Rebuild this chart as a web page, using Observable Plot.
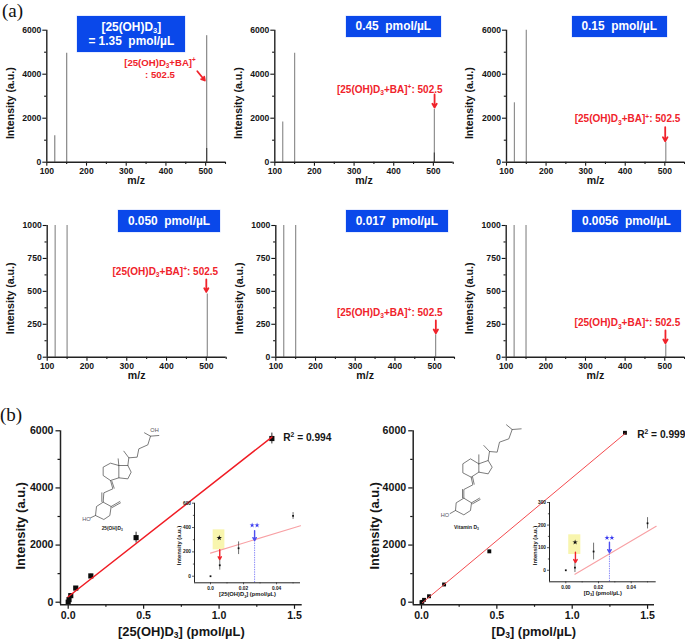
<!DOCTYPE html>
<html><head><meta charset="utf-8">
<script src="https://cdn.jsdelivr.net/npm/d3@7"></script>
<script src="https://cdn.jsdelivr.net/npm/@observablehq/plot@0.6"></script>
<style>
html,body{margin:0;padding:0;background:#fff}
#c{position:relative;width:685px;height:639px;overflow:hidden;background:#fff;font-family:"Liberation Sans",Arial,sans-serif}
#c svg{position:absolute;overflow:visible;background:none;max-width:none}
.box{position:absolute;background:#0a48ea;color:#fff;font-weight:bold;font-size:11.9px;line-height:14px;text-align:center;white-space:pre;display:flex;flex-direction:column;justify-content:center;box-shadow:0 0 0 .5px #cfdcff}
.box sub{font-size:7.5px;line-height:0;vertical-align:-2px}
.tag{position:absolute;font-family:"Liberation Serif",serif;font-size:19px;line-height:22px;color:#111}
</style></head><body><div id="c"></div>
<script>
// ---------- data ----------
const mz = [120, 150, 502.5];
const int135 = [1200, 4950, 5750];
const int045 = [1830, 4950, 2400];
const int015 = [2700, 6000, 900];
const int0050 = [1000, 1000, 480];
const int0017 = [1000, 1000, 170];
const int00056 = [1000, 1000, 95];
const low135 = 620, low045 = 420;
const concentrations = ["[25(OH)D_3]\n= 1.35  pmol/µL", "0.45  pmol/µL", "0.15  pmol/µL", "0.050  pmol/µL", "0.017  pmol/µL", "0.0056  pmol/µL"];
const ionLabel = "[25(OH)D_3+BA]^+: 502.5";

const conc = [0, 0.0056, 0.017, 0.05, 0.15, 0.45, 1.35];
const ohInt = [0, 90, 230, 495, 920, 2260, 5730];
const ohErr = [5, 40, 52, 28, 60, 190, 190];
const d3Int = [0, 12, 83, 208, 620, 1780, 5930];
const d3Err = [3, 22, 37, 25, 30, 40, 40];
const ohFit = [[0, 190], [1.35, 5780]];
const d3Fit = [[0.0056, -20], [1.35, 5900]];
const ohInsetFit = [[0, 190], [0.0545, 415]];
const d3InsetFit = [[0.0056, -18], [0.0553, 195]];
const ohLabel = "[25(OH)D_3] (pmol/µL)";
const d3Label = "[D_3] (pmol/µL)";

// ---------- skeletal formulas, drawn in their own sketch units ----------
const bondsOH = [
 [[432,112],[450,122],[475,120]],[[450,122],[442,148],[415,160],[410,185],[385,187],[370,167]],[[385,187],[382,210],[392,230],[382,250],[355,247],[355,210],[330,203],[308,215],[308,240],[330,255],[355,247]],
 [[355,210],[353,190]],[[382,210],[355,210]],[[330,255],[337,280],[310,292],[308,320],[332,333],[328,360],[310,372],[285,360],[288,333],[308,320]],
 [[334,257],[341,278]],[[304,292],[304,318]],[[332,333],[358,318]],[[335,336],[360,322]],[[285,360],[270,367]]
];
const bondsD3 = [
 [[483,88],[500,102],[527,100]],[[500,102],[490,130],[462,140],[455,170],[432,168],[415,150]],[[432,168],[428,195],[440,215],[428,235],[400,230],[400,205],[375,190],[352,205],[352,232],[377,245],[400,230]],
 [[400,205],[400,178]],[[428,195],[400,205]],[[377,245],[382,268],[355,282],[355,308],[378,322],[375,345],[355,358],[330,345],[332,322],[355,308]],
 [[381,244],[386,266]],[[351,282],[351,307]],[[378,322],[402,308]],[[381,325],[404,312]],[[330,345],[314,354]]
];

// ---------- helpers ----------
const root = document.getElementById("c");
const FONT = '"Liberation Sans", Arial, sans-serif';
const RED = "#f0232b", BLUE = "#3b3cf0";

function mount(plot, left, top) {
  plot.style.left = left + "px"; plot.style.top = top + "px";
  root.appendChild(plot); return plot;
}
function base(o) {
  return {margin: 0, style: {fontFamily: FONT, fontWeight: "bold", background: "none", overflow: "visible", color: "#151515"}, ...o};
}
function axes({xMajor, xMinor, yMajor, yMinor, xFmt, yFmt, size, tick, w, xAt, yAt, pad}) {
  const opt = {label: null, strokeWidth: w, fontSize: size, tickPadding: pad};
  return [
    Plot.axisX({...opt, ticks: xMajor, tickSize: tick, tickFormat: xFmt}),
    Plot.axisX({...opt, ticks: xMinor, tickSize: tick * 0.55, tickFormat: () => ""}),
    Plot.axisY({...opt, ticks: yMajor, tickSize: tick, tickFormat: yFmt}),
    Plot.axisY({...opt, ticks: yMinor, tickSize: tick * 0.55, tickFormat: () => ""}),
    Plot.ruleY([yAt], {strokeWidth: w + 0.3, stroke: "#222"}),
    Plot.ruleX([xAt], {strokeWidth: w + 0.3, stroke: "#222"})
  ];
}
function frameLabels(xText, yText, size, xdy, ydx, ydy) {
  return [
    Plot.text([xText], {frameAnchor: "bottom", lineAnchor: "middle", dy: xdy, fontSize: size}),
    Plot.text([yText], {frameAnchor: "left", textAnchor: "middle", lineAnchor: "middle", rotate: -90, dx: ydx, dy: ydy, fontSize: size})
  ];
}
function spectrum(g, yMax, values, low, yMajor, yMinor, label, arrow) {
  const bars = mz.map((m, i) => ({m, v: values[i]}));
  const marks = [
    Plot.ruleX(bars, {x: "m", y1: 0, y2: "v", stroke: "#8f8f8f", strokeWidth: g.bar ?? 1.2}),
    ...(low ? [Plot.ruleX([mz[2]], {y1: 0, y2: low, stroke: "#444", strokeWidth: 1.2})] : []),
    ...axes({xMajor: [100,200,300,400,500], xMinor: [150,250,350,450,550], yMajor, yMinor, xFmt: d3.format("d"), yFmt: d3.format("d"),
      size: 8.6, tick: 4, w: 1.1, xAt: 100, yAt: 0, pad: 1.5}),
    ...frameLabels("m/z", "Intensity (a.u.)", 10.6, 18.3, -36.5, 7),
    ...label.map(l => Plot.text([l.t], {x: l.x, y: l.y, fontSize: l.s ?? 10, fill: RED})),
    Plot.arrow([arrow], {x1: "x1", y1: "y1", x2: "x2", y2: "y2", stroke: RED, strokeWidth: 1.8, headLength: 6, bend: false})
  ];
  const p = Plot.plot(base({
    width: g.w, height: 195, marginLeft: g.ml, marginRight: g.mr, marginTop: g.mt, marginBottom: 33.3,
    x: {domain: [100, 550]}, y: {domain: [0, yMax]}, marks
  }));
  return mount(p, g.l, g.t);
}
function box(left, top, right, bottom, text) {
  const d = document.createElement("div"); d.className = "box";
  d.style.cssText = `left:${left}px;top:${top}px;width:${right-left}px;height:${bottom-top}px`;
  text.split("\n").forEach(s => { const e = document.createElement("div");
    e.innerHTML = s.replace(/_(.)/g, "<sub>$1</sub>"); d.appendChild(e); });
  root.appendChild(d);
}

// ---------- (a) spectra ----------
const y6k = {maj: [0,2000,4000,6000], min: [1000,3000,5000]};
const y1k = {maj: [0,250,500,750,1000], min: [125,375,625,875]};
spectrum({l:0,t:0,w:230,ml:46.3,mr:5,mt:29.7,bar:1.3}, 6000, int135, low135, y6k.maj, y6k.min,
  [{t:"[25(OH)D_3+BA]^+", x:385, y:4518, s:9.6},{t:": 502.5", x:385, y:3986, s:9.6}], {x1:479,y1:4136,x2:498,y2:3714});
spectrum({l:230,t:0,w:225,ml:44.3,mr:2.3,mt:29.7}, 6000, int045, low045, y6k.maj, y6k.min,
  [{t:ionLabel, x:390, y:3290}], {x1:503,y1:3077,x2:503,y2:2486});
spectrum({l:455,t:0,w:230,ml:51,mr:0.9,mt:29.7}, 6000, int015, null, y6k.maj, y6k.min,
  [{t:ionLabel, x:405.7, y:1955}], {x1:501,y1:1590,x2:501,y2:955});
spectrum({l:0,t:195,w:230,ml:46.7,mr:4.3,mt:30}, 1000, int0050, null, y1k.maj, y1k.min,
  [{t:ionLabel, x:397, y:650}], {x1:500,y1:590,x2:500,y2:496});
spectrum({l:230,t:195,w:225,ml:45.3,mr:1,mt:30}, 1000, int0017, null, y1k.maj, y1k.min,
  [{t:ionLabel, x:387, y:337}], {x1:503,y1:279,x2:503,y2:182});
spectrum({l:455,t:195,w:230,ml:50.7,mr:0.9,mt:30}, 1000, int00056, null, y1k.maj, y1k.min,
  [{t:ionLabel, x:405.7, y:258}], {x1:501.7,y1:203,x2:501.7,y2:106});

box(77.3,15.7,185.3,52.3,concentrations[0]);
box(346,15.7,440.7,37.3,concentrations[1]);
box(571.7,15.7,666.7,37.3,concentrations[2]);
box(118,210,220,232.3,concentrations[3]);
box(346,210,447.7,232.3,concentrations[4]);
box(571.7,210,681,232.3,concentrations[5]);

// ---------- (b) calibration curves ----------
function calibration(g, ints, errs, fit, xText, r2, fitStyle, r) {
  const rows = conc.map((c, i) => ({c, v: ints[i], e: errs[i]}));
  const marks = [
    Plot.ruleX(rows, {x: "c", y1: d => d.v - d.e, y2: d => d.v + d.e, stroke: "#111", strokeWidth: 0.9}),
    Plot.dot(rows, {x: "c", y: "v", symbol: "square", r, fill: "#0c0c0c"}),
    Plot.line(fit, {x: d => d[0], y: d => d[1], ...fitStyle}),
    ...axes({xMajor: [0,0.5,1,1.5], xMinor: [0.25,0.75,1.25], yMajor: [0,2000,4000,6000], yMinor: [1000,3000,5000],
      xFmt: d3.format(".1f"), yFmt: d3.format("d"), size: 10.6, tick: 4.5, w: 1.2, xAt: g.xd[0], yAt: -91, pad: 2.5}),
    ...frameLabels(xText, "Intensity (a.u.)", 12.9, g.xdy, g.ydx, 8),
    Plot.text([r2], {x: g.r2x, y: g.r2y, textAnchor: "start", fontSize: 10.2})
  ];
  mount(Plot.plot(base({width: g.w, height: 219, marginLeft: g.ml, marginRight: g.mr, marginTop: 10.3, marginBottom: 34.7,
    x: {domain: g.xd}, y: {domain: [-91, 6000]}, marks})), g.l, 420);
}
calibration({l:0,w:340,ml:60,mr:38.3,xd:[-0.051,1.551],xdy:26.7,ydx:-39.3,r2x:1.425,r2y:5765}, ohInt, ohErr, ohFit, ohLabel, "R^2 = 0.994", {stroke:"#f01c24", strokeWidth:1.5}, 2.9);
calibration({l:345,w:340,ml:67.7,mr:31,xd:[-0.055,1.546],xdy:26.7,ydx:-38.7,r2x:1.431,r2y:5870}, d3Int, d3Err, d3Fit, d3Label, "R^2 = 0.999", {stroke:"#f44a4e", strokeWidth:1}, 2.2);

// ---------- molecules ----------
function molecule(bonds, names, left) {
  const rows = bonds.flatMap((b, k) => b.map(p => ({k, x: p[0], y: p[1]})));
  mount(Plot.plot(base({width: 340, height: 244, x: {domain: [0,1020], axis: null}, y: {domain: [732,0], axis: null},
    marks: [
      Plot.line(rows, {x: "x", y: "y", z: "k", stroke: "#444", strokeWidth: 0.7, curve: "linear"}),
      ...names.map(n => Plot.text([n.t], {x: n.x, y: n.y, fontSize: n.s, fill: n.f, fontWeight: n.w}))
    ]})), left, 395);
}
molecule(bondsOH, [
  {t:"OH", x:462, y:103, s:5.6, f:"#555", w:"normal"},
  {t:"HO", x:258, y:370, s:5.6, f:"#556", w:"normal"},
  {t:"25(OH)D_3", x:335, y:399, s:4.8, f:"#222", w:"bold"}], 0);
molecule(bondsD3, [
  {t:"HO", x:298, y:360, s:5.6, f:"#556", w:"normal"},
  {t:"Vitamin D_3", x:363, y:396, s:5, f:"#222", w:"bold"}], 345);

// ---------- insets ----------
function inset(g, n) {
  const rows = conc.slice(0,4).map((c, i) => ({c, v: n.ints[i], e: n.errs[i]}));
  const star = (x, y, fill, r) => Plot.dot([{x, y}], {x: "x", y: "y", symbol: "star", r, fill});
  const marks = [
    Plot.rect([n.yellow], {x1: "x1", x2: "x2", y1: "y1", y2: "y2", fill: "#f8f5ae"}),
    Plot.line(n.fit, {x: d => d[0], y: d => d[1], stroke: "#f8a0a4", strokeWidth: 1.1}),
    Plot.ruleX(rows.slice(1), {x: "c", y1: d => d.v - d.e, y2: d => d.v + d.e, stroke: "#333", strokeWidth: 0.7}),
    Plot.dot(rows, {x: "c", y: "v", symbol: "square", r: 1, fill: "#111"}),
    Plot.ruleX([n.blue.x], {y1: g.yd[0], y2: n.blue.y2, stroke: "#6a6af5", strokeWidth: 0.8, strokeDasharray: "1.4,1"}),
    star(n.starAt.x, n.starAt.y, "#111", 1.7),
    star(n.blue.x - 0.0015, n.blue.s, BLUE, 1.6), star(n.blue.x + 0.0015, n.blue.s, BLUE, 1.6),
    Plot.arrow([n.red], {x1: "x", x2: "x", y1: "y1", y2: "y2", stroke: RED, strokeWidth: 1.4, headLength: 4, bend: false}),
    Plot.arrow([n.blue], {x1: "x", x2: "x", y1: "y1", y2: "y2", stroke: "#4f4ff0", strokeWidth: 1.4, headLength: 4, bend: false}),
    ...axes({xMajor: [0,0.02,0.04], xMinor: [0.01,0.03,0.05], yMajor: n.yMaj, yMinor: n.yMin,
      xFmt: n.xFmt, yFmt: d3.format("d"), size: 4.8, tick: 2, w: 0.7, xAt: g.xd[0], yAt: g.yd[0], pad: 1.5}),
    ...frameLabels(n.xText, "Intensity (a.u.)", n.s, g.xdy, g.ydx, g.ydy)
  ];
  mount(Plot.plot(base({width: 140, height: 110, marginLeft: 24, marginRight: g.mr, marginTop: g.mt, marginBottom: g.mb,
    x: {domain: g.xd}, y: {domain: g.yd}, marks})), g.l, 495);
}
inset({l:170,mr:10,mt:7.7,mb:22.7,xd:[-0.0097,0.0545],yd:[-54,600],xdy:11.7,ydx:-15.7,ydy:2.5}, {
  ints: ohInt, errs: ohErr, fit: ohInsetFit, xText: ohLabel, s: 5.8,
  yellow: {x1:0.0016,x2:0.0087,y1:217,y2:381}, starAt: {x:0.0053,y:315},
  red: {x:0.0056,y1:217,y2:137}, blue: {x:0.0267,y1:375,y2:293,s:419},
  yMaj: [0,200,400,600], yMin: [100,300,500], xFmt: d => d === 0 ? "0.0" : d3.format(".2f")(d)});
inset({l:525,mr:9.3,mt:7,mb:23.7,xd:[-0.00997,0.0553],yd:[-51,300],xdy:11,ydx:-14.7,ydy:3.4}, {
  ints: d3Int, errs: d3Err, fit: d3InsetFit, xText: d3Label, s: 5.8,
  yellow: {x1:0.0018,x2:0.0092,y1:70,y2:157}, starAt: {x:0.0057,y:124},
  red: {x:0.0059,y1:80,y2:34}, blue: {x:0.0267,y1:124,y2:78,s:144},
  yMaj: [0,100,200,300], yMin: [50,150,250], xFmt: d3.format(".2f")});

// ---------- panel tags ----------
[["(a)",2,0],["(b)",0,404]].forEach(([t,l,y]) => {
  const d = document.createElement("div"); d.className = "tag"; d.textContent = t;
  d.style.left = l + "px"; d.style.top = y + "px"; root.appendChild(d);
});

// ---------- sub/superscripts in svg text: _x lowers, ^x raises ----------
root.querySelectorAll("svg text").forEach(el => {
  const s = el.textContent;
  if (!/[_^]/.test(s)) return;
  const fs = parseFloat(getComputedStyle(el).fontSize);
  const ns = "http://www.w3.org/2000/svg";
  el.textContent = "";
  let shift = 0;
  s.split(/([_^].)/).filter(Boolean).forEach(part => {
    const t = document.createElementNS(ns, "tspan");
    let target = 0, txt = part;
    if (/^[_^]./.test(part)) { target = part[0] === "_" ? fs * 0.22 : -fs * 0.36; txt = part[1]; t.setAttribute("font-size", fs * 0.66); }
    t.setAttribute("dy", target - shift); shift = target;
    t.textContent = txt; el.appendChild(t);
  });
});
</script></body></html>
